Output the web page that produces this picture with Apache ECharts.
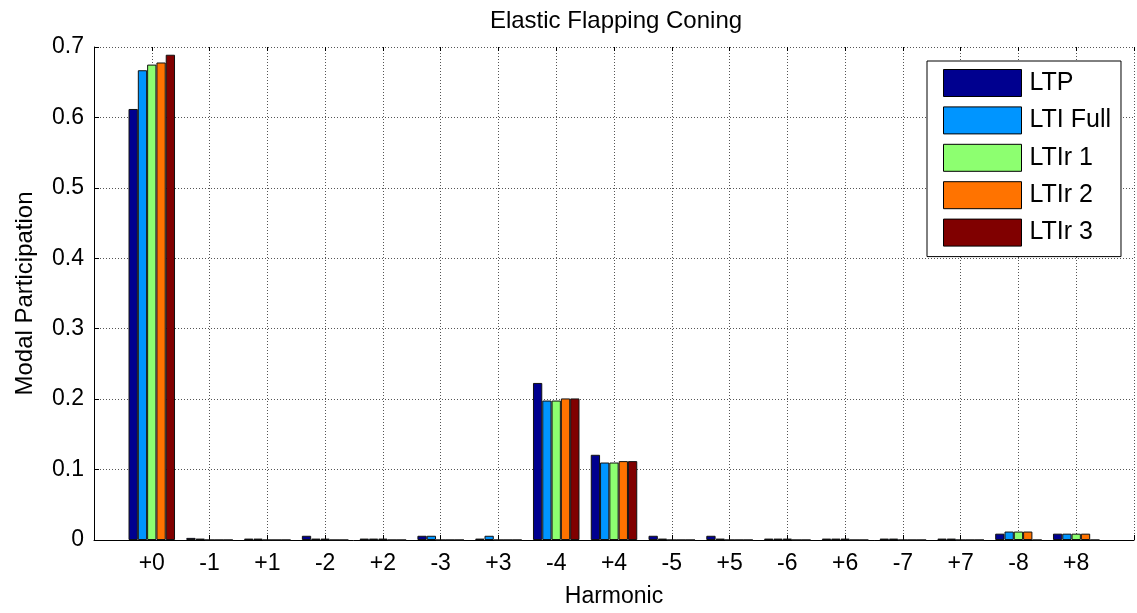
<!DOCTYPE html>
<html lang="en" style="height: 100%">
<head>
  <meta charset="utf-8">
</head>
<body style="height: 100%; margin: 0; background: #fff">
  <div id="container" style="width: 1137px; height: 613px"></div>
  <script type="text/javascript" src="https://cdn.jsdelivr.net/npm/echarts@6/dist/echarts.min.js"></script>
  <script type="text/javascript">

    // harmonics on the x axis, in plotting order
    var harmonics = ['+0', '-1', '+1', '-2', '+2', '-3', '+3', '-4', '+4', '-5', '+5', '-6', '+6', '-7', '+7', '-8', '+8'];

    // modal participation per harmonic, one array per model
    var ltp     = [0.612, 0.003, 0.002, 0.006, 0.002, 0.006, 0.002, 0.223, 0.121, 0.006, 0.006, 0.002, 0.002, 0.002, 0.002, 0.009, 0.009];
    var ltiFull = [0.667, 0.002, 0.002, 0.002, 0.002, 0.006, 0.006, 0.198, 0.110, 0.002, 0.002, 0.002, 0.002, 0.002, 0.002, 0.012, 0.009];
    var ltir1   = [0.675, 0, 0, 0.002, 0.002, 0, 0, 0.198, 0.110, 0, 0, 0.002, 0.002, 0, 0, 0.012, 0.009];
    var ltir2   = [0.678, 0, 0, 0, 0, 0, 0, 0.201, 0.112, 0, 0, 0, 0, 0, 0, 0.012, 0.009];
    var ltir3   = [0.689, 0, 0, 0, 0, 0, 0, 0.201, 0.112, 0, 0, 0, 0, 0, 0, 0, 0];

    var seriesNames = ['LTP', 'LTI Full', 'LTIr 1', 'LTIr 2', 'LTIr 3'];
    var seriesData = [ltp, ltiFull, ltir1, ltir2, ltir3];
    var colors = ['#00008F', '#0095FF', '#8DFF70', '#FF7300', '#800000'];

    var yTicks = [0, 0.1, 0.2, 0.3, 0.4, 0.5, 0.6, 0.7];

    // empty slot on each side, like the matlab xlim
    var cats = [''].concat(harmonics, ['']);
    function pad(arr) {
      return ['-'].concat(arr, ['-']);
    }

    var font = 'Liberation Sans, Arial, sans-serif';
    var gridStyle = { color: '#555', type: [1, 2], width: 1 };

    var dom = document.getElementById('container');
    var myChart = echarts.init(dom, null, { renderer: 'canvas' });

    var series = seriesNames.map(function (name, i) {
      return {
        name: name,
        type: 'bar',
        data: pad(seriesData[i]),
        barWidth: 9.3,
        barGap: '0%',
        itemStyle: {
          color: colors[i],
          borderColor: '#111',
          borderWidth: 1
        }
      };
    });

    var option = {
      animation: false,
      backgroundColor: '#fff',
      color: colors,
      title: {
        text: 'Elastic Flapping Coning',
        left: 611,
        textAlign: 'center',
        top: 4,
        textStyle: { fontFamily: font, fontSize: 24, fontWeight: 'normal', color: '#000' }
      },
      legend: {
        orient: 'vertical',
        left: 927,
        top: 61,
        padding: [8, 10, 10, 16],
        itemWidth: 78,
        itemHeight: 27,
        itemGap: 9.4,
        borderColor: '#000',
        borderWidth: 1,
        backgroundColor: '#fff',
        icon: 'rect',
        itemStyle: { borderColor: '#000', borderWidth: 1 },
        textStyle: { fontFamily: font, fontSize: 25, color: '#000', padding: [0, 0, 0, 3] },
        data: seriesNames
      },
      grid: {
        left: 94,
        right: 3,
        top: 47,
        bottom: 71
      },
      xAxis: [{
        type: 'category',
        data: cats,
        boundaryGap: false,
        name: 'Harmonic',
        nameLocation: 'middle',
        nameGap: 45,
        nameTextStyle: { fontFamily: font, fontSize: 23, color: '#000' },
        axisLine: { lineStyle: { color: '#000', width: 1 } },
        axisTick: { inside: true, length: 5, interval: 0, lineStyle: { color: '#000' } },
        axisLabel: { interval: 0, fontFamily: font, fontSize: 23, color: '#000', margin: 12 },
        splitLine: { show: true, interval: 0, lineStyle: gridStyle }
      }, {
        // mirrored ticks along the top edge
        type: 'category',
        position: 'top',
        data: cats,
        boundaryGap: false,
        axisLine: { show: false },
        axisTick: { inside: true, length: 4, interval: 0, lineStyle: { color: '#000' } },
        axisLabel: { show: false },
        splitLine: { show: false }
      }],
      yAxis: {
        type: 'value',
        min: yTicks[0],
        max: yTicks[yTicks.length - 1],
        interval: 0.1,
        name: 'Modal Participation',
        nameLocation: 'middle',
        nameGap: 57,
        nameTextStyle: { fontFamily: font, fontSize: 24, color: '#000' },
        axisLine: { show: true, lineStyle: { color: '#000', width: 1 } },
        axisTick: { show: true, inside: true, length: 5, lineStyle: { color: '#000' } },
        axisLabel: {
          fontFamily: font, fontSize: 23, color: '#000', margin: 10,
          formatter: function (v) { return String(Math.round(v * 10) / 10); }
        },
        splitLine: { show: true, lineStyle: gridStyle }
      },
      series: series
    };

    myChart.setOption(option);
    window.addEventListener('resize', myChart.resize);
  </script>
</body>
</html>
